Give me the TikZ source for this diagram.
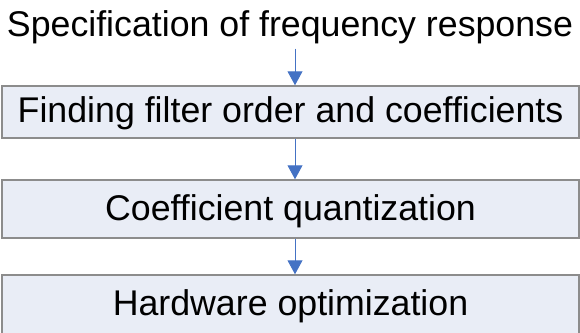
\documentclass[tikz,border=0pt]{standalone}
\usepackage{fontspec}
\setmainfont{Liberation Sans}
\usetikzlibrary{arrows.meta}
\definecolor{boxfill}{RGB}{233,237,246}
\definecolor{boxline}{RGB}{140,140,140}
\definecolor{arrowblue}{RGB}{68,114,196}
\begin{document}
\begin{tikzpicture}[x=0.75pt,y=0.75pt,
	stage/.style={draw=boxline,line width=1.1pt,fill=boxfill,minimum width=432.75pt,inner sep=0pt,
		text height=26.6pt,text depth=10.1pt,font=\fontsize{26.8pt}{30pt}\selectfont},
	flow/.style={draw=arrowblue,line width=0.75pt,-{Triangle[width=11.25pt,length=10.5pt]}}]
	\useasboundingbox (0,0) rectangle (580,332);

	% heading
	\node[anchor=base,inner sep=3pt,font=\fontsize{26.8pt}{30pt}\selectfont] (spec) at (290,295) {Specification of frequency response};

	% design stages
	\node[stage,minimum height=39pt] (order) at (290.5,220) {Finding filter order and coefficients};
	\node[stage,minimum height=43.5pt] (quant) at (290.5,123) {Coefficient quantization};
	\node[stage,minimum height=44.25pt] (hw) at (290.5,27.5) {Hardware optimization};

	\coordinate (ax) at (295,0);
	\draw[flow] (spec.south -| ax) -- (order.north -| ax);
	\draw[flow] (order.south -| ax) -- (quant.north -| ax);
	\draw[flow] (quant.south -| ax) -- (hw.north -| ax);
	% \draw[help lines] (0,0) grid (580,332);
\end{tikzpicture}
\end{document}
